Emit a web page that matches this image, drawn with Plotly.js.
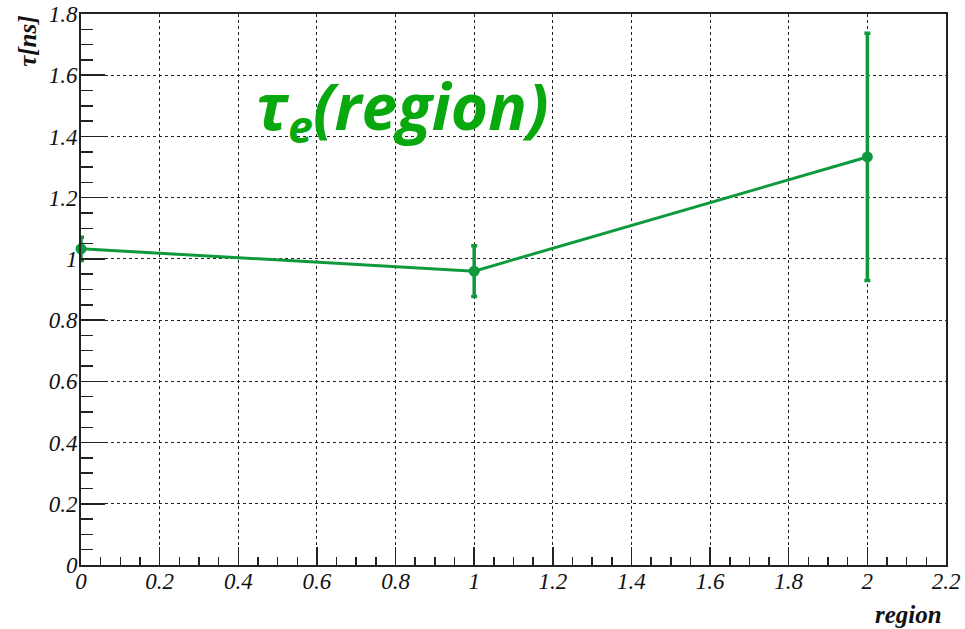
<!DOCTYPE html>
<html>
<head>
<meta charset="utf-8">
<script src="https://cdn.plot.ly/plotly-3.0.1.min.js"></script>
<style>
  html, body { margin: 0; padding: 0; background: #fff; }
  #chart { width: 965px; height: 629px; }
</style>
</head>
<body>
<div id="chart"></div>
<script>
// Electron time constant per detector region, with uncertainties
const regions = [0, 1, 2];
const tauValues = [1.033, 0.96, 1.333];
const tauErrors = [0.038, 0.083, 0.404];

const lineGreen = '#0e9a3c';
const labelGreen = '#08a80e';
const tickFont = { family: 'Liberation Serif', size: 23, color: '#111', style: 'italic' };
const titleFont = { family: 'Liberation Serif', size: 25, color: '#111', style: 'italic', weight: 'bold' };

const trace = {
  x: regions,
  y: tauValues,
  type: 'scatter',
  mode: 'lines+markers',
  line: { color: lineGreen, width: 3 },
  marker: { color: lineGreen, size: 11, symbol: 'circle' },
  error_y: { type: 'data', array: tauErrors, visible: true, color: lineGreen, thickness: 3.5, width: 3 },
  cliponaxis: false,
  hoverinfo: 'x+y'
};

const gridStyle = { showgrid: true, gridcolor: '#222', gridwidth: 1, griddash: '3px,3px' };

const layout = {
  width: 965,
  height: 629,
  margin: { l: 81, r: 19, t: 14, b: 64 },
  paper_bgcolor: '#fff',
  plot_bgcolor: '#fff',
  showlegend: false,
  xaxis: Object.assign({
    range: [0, 2.2],
    dtick: 0.2,
    tick0: 0,
    ticks: 'inside',
    ticklen: 18,
    tickwidth: 1.5,
    tickcolor: '#222',
    showline: true,
    linecolor: '#222',
    linewidth: 2,
    mirror: true,
    zeroline: false,
    tickfont: tickFont,
    ticklabelstandoff: -6,
    minor: { dtick: 0.05, ticks: 'inside', ticklen: 8, tickwidth: 1.5, tickcolor: '#222', showgrid: false }
  }, gridStyle),
  yaxis: Object.assign({
    range: [0, 1.8],
    dtick: 0.2,
    tick0: 0,
    ticks: 'inside',
    ticklen: 24,
    tickwidth: 1.5,
    tickcolor: '#222',
    showline: true,
    linecolor: '#222',
    linewidth: 2,
    mirror: true,
    zeroline: false,
    tickfont: tickFont,
    ticklabelstandoff: -3,
    minor: { dtick: 0.05, ticks: 'inside', ticklen: 12, tickwidth: 1.5, tickcolor: '#222', showgrid: false }
  }, gridStyle),
  annotations: [
    {
      text: 'region',
      xref: 'paper', yref: 'paper',
      x: 0.9975, y: -0.089,
      xanchor: 'right', yanchor: 'middle',
      showarrow: false,
      font: titleFont
    },
    {
      text: 'τ[ns]',
      xref: 'paper', yref: 'paper',
      x: -0.062, y: 1.0,
      xanchor: 'center', yanchor: 'top',
      textangle: -90,
      showarrow: false,
      font: titleFont
    },
    {
      text: 'τ<sub>e</sub>(region)',
      xref: 'x', yref: 'y',
      x: 0.44, y: 1.49,
      xanchor: 'left', yanchor: 'middle',
      showarrow: false,
      font: { family: 'Open Sans', size: 64, color: labelGreen, style: 'italic', weight: 'bold' }
    }
  ]
};

Plotly.newPlot('chart', [trace], layout, { displayModeBar: false, staticPlot: true });
</script>
</body>
</html>
